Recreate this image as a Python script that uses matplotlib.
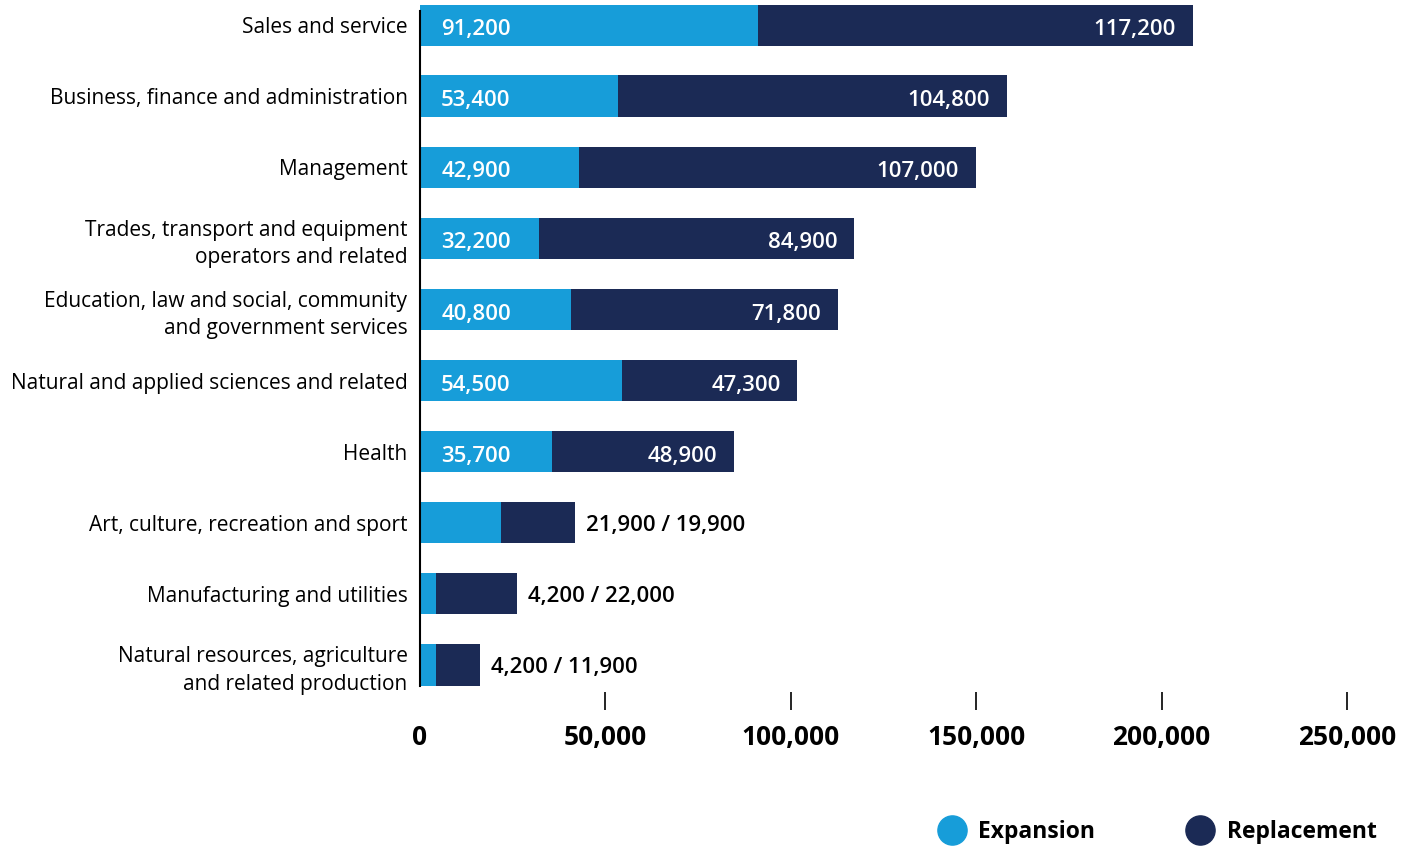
import matplotlib.pyplot as plt
from matplotlib.lines import Line2D

plt.rcParams['font.family'] = ['Open Sans', 'DejaVu Sans']

categories = ['Sales and service',
              'Business, finance and administration',
              'Management',
              'Trades, transport and equipment\noperators and related',
              'Education, law and social, community\nand government services',
              'Natural and applied sciences and related',
              'Health',
              'Art, culture, recreation and sport',
              'Manufacturing and utilities',
              'Natural resources, agriculture\nand related production']
expansion = [91200, 53400, 42900, 32200, 40800, 54500, 35700, 21900, 4200, 4200]
replacement = [117200, 104800, 107000, 84900, 71800, 47300, 48900, 19900, 22000, 11900]
inside = [True, True, True, True, True, True, True, False, False, False]
xticks = [0, 50000, 100000, 150000, 200000, 250000]

c_exp = '#179dd9'
c_rep = '#1b2a55'

fig = plt.figure(figsize=(14.01, 8.47), dpi=100)
ax = fig.add_axes([420 / 1401, 1 - 710 / 847, 927 / 1401, 705.5 / 847])

y = list(range(len(categories)))
ax.barh(y, expansion, height=0.58, color=c_exp)
ax.barh(y, replacement, left=expansion, height=0.58, color=c_rep)

for i in y:
    e, r = expansion[i], replacement[i]
    if inside[i]:
        ax.text(5700, i + 0.03, f'{e:,}', color='white', fontsize=16, fontweight='semibold',
                va='center_baseline', ha='left')
        ax.text(e + r - 4500, i + 0.03, f'{r:,}', color='white', fontsize=16,
                fontweight='semibold', va='center_baseline', ha='right')
    else:
        ax.text(e + r + 3000, i, f'{e:,} / {r:,}', color='black', fontsize=16,
                fontweight='semibold', va='center_baseline', ha='left')

ax.set_xlim(0, 250000)
ax.set_ylim(9.633, -0.288)
ax.set_yticks(y)
ax.set_yticklabels(categories, fontsize=15, linespacing=1.4, ha='right')
ax.tick_params(axis='y', length=0, pad=9)
ax.set_xticks(xticks)
ax.set_xticklabels([f'{v:,}' for v in xticks], fontsize=19, fontweight='bold')
ax.tick_params(axis='x', direction='in', length=13, width=1.2, pad=10)
ax.xaxis.get_major_ticks()[0].tick1line.set_visible(False)

for s in ['top', 'right', 'bottom']:
    ax.spines[s].set_visible(False)
ax.spines['left'].set_bounds(9.29, -0.2)
ax.spines['left'].set_linewidth(1.5)

handles = [Line2D([], [], marker='o', ls='', color=c_exp, markersize=21),
           Line2D([], [], marker='o', ls='', color=c_rep, markersize=21)]
leg = fig.legend(handles, ['Expansion', 'Replacement'], loc='center',
                 bbox_to_anchor=(0.826, 0.018), ncol=2, frameon=False,
                 handletextpad=0.55, columnspacing=4.0, handlelength=1.2,
                 prop={'size': 16.5, 'weight': 'bold'})

fig.savefig('out.png', dpi=100)
